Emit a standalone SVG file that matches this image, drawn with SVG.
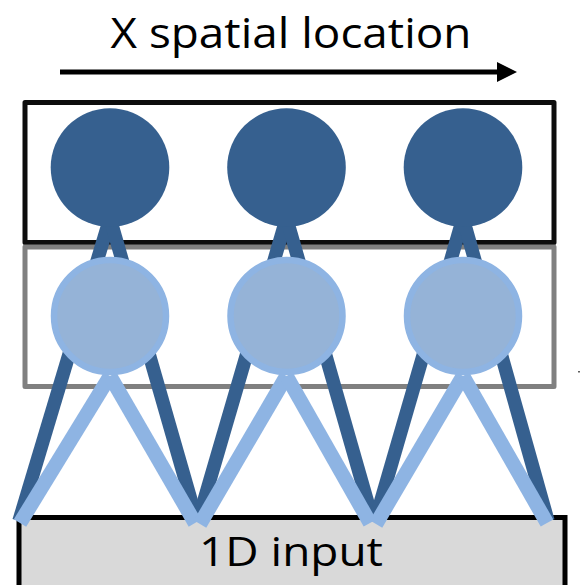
<svg xmlns="http://www.w3.org/2000/svg" width="580" height="585" viewBox="0 0 580 585">
  <defs>
    <marker id="head" viewBox="0 0 10 10" refX="0" refY="5" markerWidth="5" markerHeight="4" markerUnits="strokeWidth" orient="auto">
      <path d="M0,0 L10,5 L0,10 Z" fill="#000"/>
    </marker>
    <style>
      .label { font-family: "Open Sans", "Liberation Sans", sans-serif; fill: #000; }
      .layer { fill: none; stroke-width: 5; stroke-linejoin: round; }
      .dark-edge { stroke: #36608f; stroke-width: 13.5; stroke-linecap: butt; fill: none; }
      .light-edge { stroke: #8eb4e3; stroke-width: 14.5; stroke-linecap: butt; fill: none; }
      .top-unit { fill: #36608f; }
      .mid-unit { fill: #95b3d7; stroke: #8eb4e3; stroke-width: 6.5; }
    </style>
  </defs>

  <rect width="580" height="585" fill="#fff"/>

  <!-- axis title and arrow -->
  <text class="label" x="291" y="48" font-size="42" text-anchor="middle" textLength="361" lengthAdjust="spacingAndGlyphs">X spatial location</text>
  <line x1="60" y1="72" x2="497" y2="72" stroke="#000" stroke-width="5" marker-end="url(#head)"/>

  <!-- layer frames -->
  <g id="top-layer">
    <rect class="layer" x="25" y="102.5" width="529" height="140" stroke="#0d0d0d"/>
  </g>
  <g id="middle-layer">
    <rect class="layer" x="25" y="247" width="529" height="139.5" stroke="#808080"/>
  </g>

  <!-- input strip -->
  <g id="input">
    <rect x="19" y="517.5" width="546" height="80" fill="#d9d9d9" stroke="#000" stroke-width="5"/>
    <text class="label" x="291" y="566" font-size="40" text-anchor="middle" textLength="184" lengthAdjust="spacingAndGlyphs">1D input</text>
  </g>

  <!-- connections -->
  <g id="connectors">
    <!-- top units to input -->
    <line class="dark-edge" x1="110" y1="218" x2="19" y2="521"/>
    <line class="dark-edge" x1="110" y1="218" x2="197" y2="521"/>
    <line class="dark-edge" x1="286.5" y1="218" x2="198" y2="521"/>
    <line class="dark-edge" x1="286.5" y1="218" x2="373" y2="521"/>
    <line class="dark-edge" x1="463" y1="218" x2="375" y2="521"/>
    <line class="dark-edge" x1="463" y1="218" x2="548" y2="521"/>
    <!-- middle units to input -->
    <line class="light-edge" x1="110" y1="376" x2="20" y2="523"/>
    <line class="light-edge" x1="110" y1="376" x2="195" y2="523"/>
    <line class="light-edge" x1="286.5" y1="376" x2="200" y2="524"/>
    <line class="light-edge" x1="286.5" y1="376" x2="370" y2="523"/>
    <line class="light-edge" x1="463" y1="376" x2="376" y2="524"/>
    <line class="light-edge" x1="463" y1="376" x2="547" y2="523"/>
  </g>

  <!-- top row units -->
  <g id="top-unit-1"><circle class="top-unit" cx="110" cy="167.5" r="59.3"/></g>
  <g id="top-unit-2"><circle class="top-unit" cx="286.5" cy="167.5" r="59.3"/></g>
  <g id="top-unit-3"><circle class="top-unit" cx="463" cy="167.5" r="59.3"/></g>

  <!-- middle row units -->
  <g id="mid-unit-1"><circle class="mid-unit" cx="110" cy="316" r="56"/></g>
  <g id="mid-unit-2"><circle class="mid-unit" cx="286.5" cy="316" r="56"/></g>
  <g id="mid-unit-3"><circle class="mid-unit" cx="463" cy="316" r="56"/></g>

  <rect x="578" y="371" width="2" height="1.5" fill="#606060"/>
</svg>
